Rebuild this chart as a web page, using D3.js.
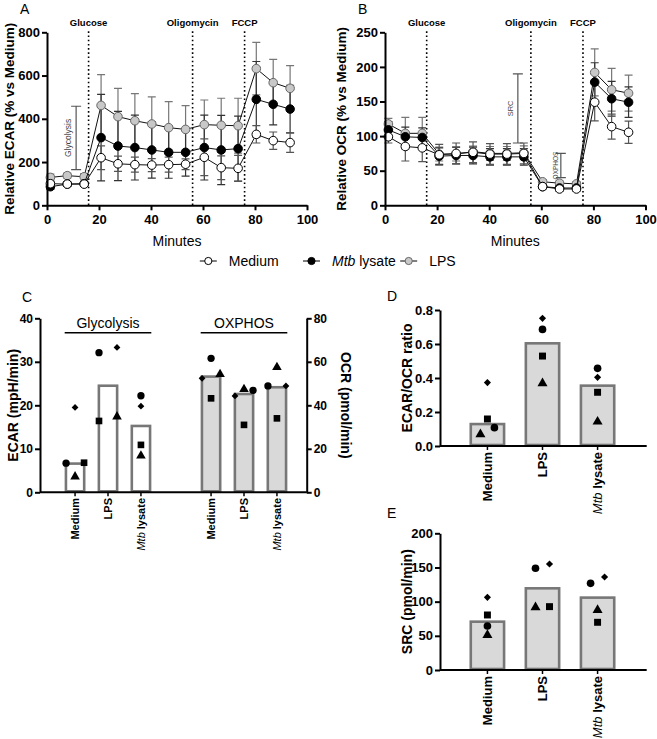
<!DOCTYPE html>
<html>
<head>
<meta charset="utf-8">
<script src="https://cdn.jsdelivr.net/npm/d3@7"></script>
<style>
body { margin: 0; background: #fff; }
svg { font-family: "Liberation Sans", Arial, sans-serif; }
</style>
</head>
<body>
<svg id="fig" width="657" height="739"></svg>
<script>
// ---- time course data (minutes) ----
var minutes = [1.3, 7.8, 14.3, 20.8, 27.3, 33.8, 40.3, 46.8, 53.3, 60.5, 67, 73.5, 80.5, 87, 93.5];
var injections = ["Glucose", "Oligomycin", "FCCP"];
var injectionTimes = [16, 56, 76];

var ecarMedium = [100, 98, 98, 220, 192, 188, 186, 188, 190, 222, 174, 171, 328, 299, 290];
var ecarMediumSd = [10, 8, 8, 55, 35, 35, 30, 35, 25, 85, 55, 60, 40, 40, 45];
var ecarMtb = [86, 98, 100, 313, 274, 267, 256, 245, 245, 267, 256, 262, 490, 467, 445];
var ecarMtbSd = [12, 10, 10, 200, 160, 150, 130, 120, 110, 150, 160, 150, 175, 95, 110];
var ecarLps = [129, 137, 132, 462, 410, 391, 376, 359, 351, 373, 370, 368, 632, 567, 541];
var ecarLpsSd = [15, 12, 15, 142, 131, 125, 125, 120, 110, 114, 125, 127, 121, 108, 105];

var ocrMedium = [99, 85, 83, 73, 75, 76.6, 74, 74, 75, 27, 23.6, 23.6, 149, 113.7, 105.5];
var ocrMediumSd = [9, 21, 20, 15, 15, 15, 15, 15, 15, 3, 3, 3, 27, 18, 16];
var ocrMtb = [109, 99, 98, 71, 72, 72, 70, 70, 70, 27, 25, 25, 178, 154, 149];
var ocrMtbSd = [12, 14, 14, 12, 12, 12, 12, 12, 12, 3, 3, 3, 28, 25, 22];
var ocrLps = [117.5, 104, 104, 74, 74, 77.5, 75, 75, 76, 34, 32, 31, 192, 167, 162];
var ocrLpsSd = [8, 23, 23, 10, 10, 8, 10, 10, 10, 3, 3, 3, 34, 31, 26];

// ---- bar panels: conditions, means, donors (circle, square, triangle, diamond) ----
var conditions = ["Medium", "LPS", "Mtb lysate"];
var glycolysisBars = [6.6, 24.5, 15.25];
var glycolysisDonors = [[6.7, 6.8, 3.6, 19.5], [32.1, 16.4, 17.4, 33.3], [22.2, 10.9, 8.4, 19.8]];
var glycolysisJitter = [[-1, 1, 0, 0], [-1, -1, 1, 1], [0, 0, 0, 0]];
var oxphosBars = [53.2, 45.2, 48.3];
var oxphosDonors = [[61.6, 43.2, 54.3, 52.4], [46.9, 31, 47.4, 44.3], [48.9, 34, 57.5, 48.9]];
var oxphosJitter = [[0, 0, 1, -1], [1, 0, 0, -1], [-1, 0, 0, 1]];
var ratioBars = [0.129, 0.604, 0.355];
var ratioDonors = [[0.108, 0.159, 0.069, 0.373], [0.686, 0.529, 0.369, 0.751], [0.457, 0.316, 0.143, 0.404]];
var ratioJitter = [[1, 0, -1, 0], [0, 0, 0, 0], [0, 0, 0, 0]];
var srcBars = [70.7, 119.5, 105.9];
var srcDonors = [[64.4, 80.5, 51.2, 106.3], [148.8, 92.7, 91.7, 155.1], [126.8, 69.8, 87.8, 136.1]];
var srcJitter = [[0, 0, 0, 0], [-1, 1, -1, 1], [-1, 0, 0, 1]];

var svg = d3.select("#fig");
var FONT = '"Liberation Sans", Arial, sans-serif';

function styleAxis(g, size) {
	g.attr("font-family", FONT).attr("font-size", size).attr("font-weight", "bold");
	g.select(".domain").attr("stroke", "#000").attr("stroke-width", 2);
	g.selectAll(".tick line").attr("stroke", "#000").attr("stroke-width", 2);
	g.selectAll(".tick text").attr("fill", "#000");
}

function yLabel(x, y, txt, size, rot) {
	svg.append("text").attr("transform", "translate(" + x + "," + y + ") rotate(" + (rot || -90) + ")")
		.attr("text-anchor", "middle").attr("dy", "0.35em")
		.attr("font-size", size).attr("font-weight", "bold").text(txt);
}

function letter(x, y, t) {
	svg.append("text").attr("x", x).attr("y", y).attr("font-size", 14).text(t);
}

// ---- time course panels ----
function timecourse(xs, ys, ticks, series, notes) {
	var g = svg.append("g");
	var y0 = ys.range()[0], y1 = ys.range()[1];

	injectionTimes.forEach(function(t, i) {
		g.append("line").attr("x1", xs(t)).attr("x2", xs(t)).attr("y1", y1 - 1).attr("y2", y0)
			.attr("stroke", "#000").attr("stroke-width", 1.6).attr("stroke-dasharray", "1.6,2.6");
		g.append("text").attr("x", xs(t)).attr("y", 26).attr("text-anchor", "middle")
			.attr("font-size", 9.5).attr("font-weight", "bold").text(injections[i]);
	});

	notes.forEach(function(n) {
		var x = xs(n.t);
		g.append("path").attr("d", "M" + (x - 5) + "," + ys(n.lo) + "h10M" + x + "," + ys(n.lo) + "V" + ys(n.hi) + "M" + (x - 5) + "," + ys(n.hi) + "h10")
			.attr("stroke", "#555").attr("stroke-width", 1.2).attr("fill", "none");
		g.append("text").attr("transform", "translate(" + (x - n.off) + "," + ys((n.lo + n.hi) / 2) + ") rotate(-90)")
			.attr("text-anchor", "middle").attr("dy", "0.35em").attr("font-size", n.size)
			.attr("fill", "#444").text(n.label);
	});

	series.forEach(function(s) {
		minutes.forEach(function(t, i) {
			var x = xs(t), a = ys(s.v[i] + s.sd[i]), b = ys(Math.max(0, s.v[i] - s.sd[i]));
			g.append("path").attr("d", "M" + (x - 4) + "," + a + "h8M" + x + "," + a + "V" + b + "M" + (x - 4) + "," + b + "h8")
				.attr("stroke", s.bar).attr("stroke-width", 1.2).attr("fill", "none");
		});
	});
	series.forEach(function(s) {
		var line = d3.line().x(function(d, i) { return xs(minutes[i]); }).y(function(d) { return ys(d); });
		g.append("path").attr("d", line(s.v)).attr("fill", "none").attr("stroke", "#111").attr("stroke-width", 1);
		g.selectAll(null).data(s.v).enter().append("circle")
			.attr("cx", function(d, i) { return xs(minutes[i]); }).attr("cy", function(d) { return ys(d); })
			.attr("r", 4.3).attr("fill", s.fill).attr("stroke", s.stroke).attr("stroke-width", 1);
	});

	var ax = g.append("g").attr("transform", "translate(0," + y0 + ")")
		.call(d3.axisBottom(xs).tickValues([0, 20, 40, 60, 80, 100]).tickSize(5).tickSizeOuter(0).tickPadding(4));
	styleAxis(ax, 13);
	var ay = g.append("g").attr("transform", "translate(" + xs.range()[0] + ",0)")
		.call(d3.axisLeft(ys).tickValues(ticks).tickSize(5).tickSizeOuter(0).tickPadding(2));
	styleAxis(ay, 13);

	g.append("text").attr("x", (xs.range()[0] + xs.range()[1]) / 2).attr("y", 246)
		.attr("text-anchor", "middle").attr("font-size", 14).text("Minutes");
}

var xA = d3.scaleLinear().domain([0, 100]).range([47, 307]);
var yA = d3.scaleLinear().domain([0, 800]).range([205.3, 32.3]);
timecourse(xA, yA, [0, 200, 400, 600, 800], [
	{ v: ecarLps, sd: ecarLpsSd, fill: "#c8c8c8", stroke: "#666", bar: "#777" },
	{ v: ecarMtb, sd: ecarMtbSd, fill: "#000", stroke: "#000", bar: "#333" },
	{ v: ecarMedium, sd: ecarMediumSd, fill: "#fff", stroke: "#000", bar: "#555" }
], [{ t: 11.2, lo: 165, hi: 458, label: "Glycolysis", size: 8.5, off: 8 }]);
yLabel(9.5, 118.8, "Relative ECAR (% vs Medium)", 13.5);
letter(20, 14, "A");

var xB = d3.scaleLinear().domain([0, 100]).range([385, 645.5]);
var yB = d3.scaleLinear().domain([0, 250]).range([205.3, 32.3]);
timecourse(xB, yB, [0, 50, 100, 150, 200, 250], [
	{ v: ocrLps, sd: ocrLpsSd, fill: "#c8c8c8", stroke: "#666", bar: "#777" },
	{ v: ocrMtb, sd: ocrMtbSd, fill: "#000", stroke: "#000", bar: "#333" },
	{ v: ocrMedium, sd: ocrMediumSd, fill: "#fff", stroke: "#000", bar: "#555" }
], [{ t: 51, lo: 90, hi: 190, label: "SRC", size: 7.5, off: 7.5 },
	{ t: 67.5, lo: 40, hi: 75, label: "OXPHOS", size: 6.5, off: 5 }]);
yLabel(341, 118.8, "Relative OCR (% vs Medium)", 13.5);
letter(358, 14, "B");

// ---- legend ----
var legendItems = [
	{ x: 208.3, fill: "#fff", stroke: "#000", label: ["", "Medium"] },
	{ x: 311.5, fill: "#000", stroke: "#000", label: ["Mtb", " lysate"] },
	{ x: 408.7, fill: "#c8c8c8", stroke: "#666", label: ["", "LPS"] }
];
legendItems.forEach(function(d) {
	var g = svg.append("g");
	g.append("line").attr("x1", d.x - 8.5).attr("x2", d.x + 8.5).attr("y1", 261).attr("y2", 261).attr("stroke", "#000").attr("stroke-width", 1);
	g.append("circle").attr("cx", d.x).attr("cy", 261).attr("r", 3.6).attr("fill", d.fill).attr("stroke", d.stroke);
	var t = g.append("text").attr("x", d.x + 20.5).attr("y", 266).attr("font-size", 14);
	if (d.label[0]) t.append("tspan").attr("font-style", "italic").text(d.label[0]);
	t.append("tspan").text(d.label[1]);
});

// ---- bar panels ----
function donorSymbol(k, size) {
	if (k === 0) return d3.symbol().type(d3.symbolCircle).size(size * 1.0)();
	if (k === 1) return d3.symbol().type(d3.symbolSquare).size(size * 1.05)();
	if (k === 2) return d3.symbol().type(d3.symbolTriangle).size(size * 0.95)();
	return d3.symbol().type(d3.symbolSquare).size(size * 0.55)();
}

function bars(g, xs, ys, values, donors, jitter, fill, jit, symSize) {
	var bw = xs.bandwidth();
	g.selectAll(null).data(values).enter().append("rect")
		.attr("x", function(d, i) { return xs(conditions[i]) + 1.25; })
		.attr("y", function(d) { return ys(d); })
		.attr("width", bw - 2.5)
		.attr("height", function(d) { return ys(0) - ys(d) - 1; })
		.attr("fill", fill).attr("stroke", "#777").attr("stroke-width", 2.6);
	donors.forEach(function(vals, i) {
		vals.forEach(function(v, k) {
			var cx = xs(conditions[i]) + bw / 2 + jitter[i][k] * jit;
			g.append("path").attr("d", donorSymbol(k, symSize))
				.attr("transform", "translate(" + cx + "," + ys(v) + ")" + (k === 3 ? " rotate(45)" : ""))
				.attr("fill", "#000");
		});
	});
}

function categoryLabels(g, xs, y, size) {
	conditions.forEach(function(c) {
		var t = g.append("text")
			.attr("transform", "translate(" + (xs(c) + xs.bandwidth() / 2) + "," + y + ") rotate(-90)")
			.attr("text-anchor", "end").attr("dy", "0.35em").attr("font-size", size);
		if (c === "Mtb lysate") {
			t.append("tspan").attr("font-style", "italic").text("Mtb");
			t.append("tspan").attr("font-weight", "bold").text(" lysate");
		} else {
			t.attr("font-weight", "bold").text(c);
		}
	});
}

function xAxisLine(g, x0, x1, y, centers) {
	g.append("line").attr("x1", x0).attr("x2", x1).attr("y1", y).attr("y2", y).attr("stroke", "#000").attr("stroke-width", 2);
	centers.forEach(function(cx) {
		g.append("line").attr("x1", cx).attr("x2", cx).attr("y1", y).attr("y2", y + 4).attr("stroke", "#000").attr("stroke-width", 1.5);
	});
}

// panel C
var gC = svg.append("g");
var yC = d3.scaleLinear().domain([0, 40]).range([492.3, 318.3]);
var yC2 = d3.scaleLinear().domain([0, 80]).range([492.3, 318.3]);
var xGly = d3.scaleBand().domain(conditions).range([52.5, 163.5]).padding(0.37);
var xOx = d3.scaleBand().domain(conditions).range([188.5, 299.5]).padding(0.37);
bars(gC, xGly, yC, glycolysisBars, glycolysisDonors, glycolysisJitter, "#fff", 9, 42);
bars(gC, xOx, yC2, oxphosBars, oxphosDonors, oxphosJitter, "#d9d9d9", 9, 42);
var centersC = conditions.map(function(c) { return xGly(c) + xGly.bandwidth() / 2; })
	.concat(conditions.map(function(c) { return xOx(c) + xOx.bandwidth() / 2; }));
xAxisLine(gC, 40, 306.7, 492.3, centersC);
var acl = gC.append("g").attr("transform", "translate(40,0)")
	.call(d3.axisLeft(yC).tickValues([0, 10, 20, 30, 40]).tickSize(5).tickSizeOuter(0).tickPadding(2));
styleAxis(acl, 12);
var acr = gC.append("g").attr("transform", "translate(306.7,0)")
	.call(d3.axisRight(yC2).tickValues([0, 20, 40, 60, 80]).tickSize(5).tickSizeOuter(0).tickPadding(2));
styleAxis(acr, 12);
categoryLabels(gC, xGly, 498, 11);
categoryLabels(gC, xOx, 498, 11);
[["Glycolysis", xGly], ["OXPHOS", xOx]].forEach(function(p) {
	var a = p[1](conditions[0]), b = p[1](conditions[2]) + p[1].bandwidth();
	gC.append("line").attr("x1", a).attr("x2", b).attr("y1", 332.7).attr("y2", 332.7).attr("stroke", "#000").attr("stroke-width", 1.5);
	gC.append("text").attr("x", (a + b) / 2).attr("y", 328).attr("text-anchor", "middle").attr("font-size", 14).text(p[0]);
});
yLabel(13, 405.3, "ECAR (mpH/min)", 14);
yLabel(346, 405.3, "OCR (pmol/min)", 14, 90);
letter(22, 302, "C");

// panels D and E
var xDE = d3.scaleBand().domain(conditions).range([450.25, 634.75]).padding(0.35);
var centersDE = conditions.map(function(c) { return xDE(c) + xDE.bandwidth() / 2; });

var gD = svg.append("g");
var yD = d3.scaleLinear().domain([0, 0.8]).range([446, 310]);
bars(gD, xDE, yD, ratioBars, ratioDonors, ratioJitter, "#d9d9d9", 7, 46);
xAxisLine(gD, 440, 646.7, 446, centersDE);
var ad = gD.append("g").attr("transform", "translate(440,0)")
	.call(d3.axisLeft(yD).tickValues([0, 0.2, 0.4, 0.6, 0.8]).tickFormat(d3.format(".1f")).tickSize(5).tickSizeOuter(0).tickPadding(2));
styleAxis(ad, 13);
categoryLabels(gD, xDE, 452, 13);
yLabel(407, 378, "ECAR/OCR ratio", 14);
letter(387, 301, "D");

var gE = svg.append("g");
var yE = d3.scaleLinear().domain([0, 200]).range([670, 533.3]);
bars(gE, xDE, yE, srcBars, srcDonors, srcJitter, "#d9d9d9", 7, 46);
xAxisLine(gE, 440, 646.7, 670, centersDE);
var ae = gE.append("g").attr("transform", "translate(440,0)")
	.call(d3.axisLeft(yE).tickValues([0, 50, 100, 150, 200]).tickSize(5).tickSizeOuter(0).tickPadding(2));
styleAxis(ae, 13);
categoryLabels(gE, xDE, 676, 13);
yLabel(407, 601.7, "SRC (pmol/min)", 14);
letter(387, 518, "E");
</script>
</body>
</html>
